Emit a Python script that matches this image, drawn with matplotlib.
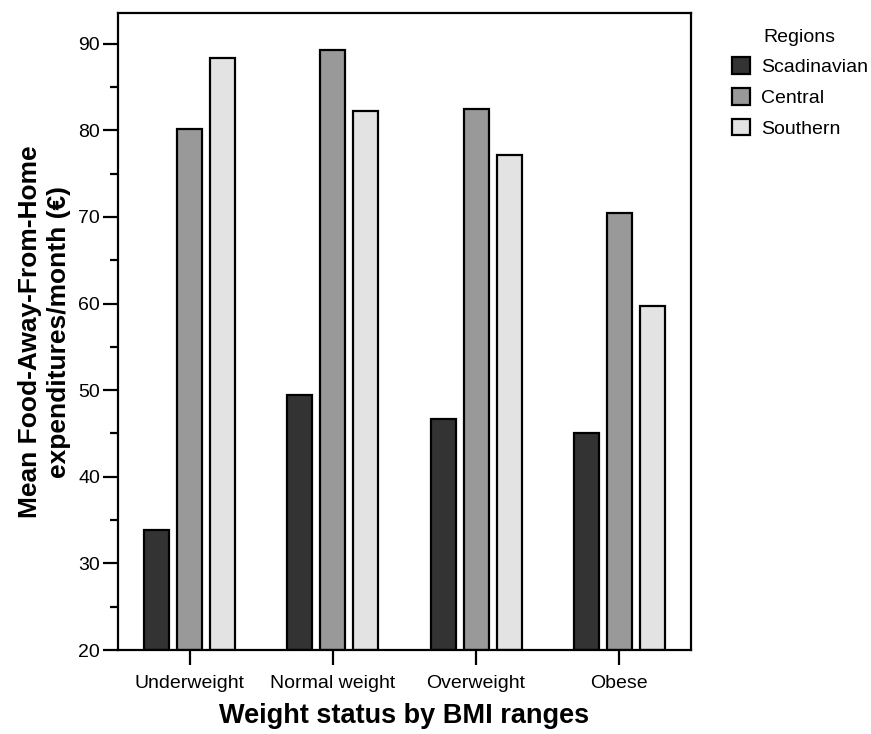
import numpy as np
import matplotlib.pyplot as plt
from matplotlib.ticker import MultipleLocator

plt.rcParams['font.family'] = ['Liberation Sans', 'DejaVu Sans']

categories = ['Underweight', 'Normal weight', 'Overweight', 'Obese']
regions = ['Scadinavian', 'Central', 'Southern']
scandinavian = [33.9, 49.4, 46.7, 45.0]
central = [80.2, 89.3, 82.5, 70.5]
southern = [88.3, 82.2, 77.1, 59.7]
colors = ['#333333', '#999999', '#e3e3e3']

fig = plt.figure(figsize=(8.71, 7.34), dpi=100)
ax = fig.add_axes([0.1355, 0.1144, 0.6578, 0.8675])

x = np.arange(len(categories))
width = 0.175
step = 0.23
for i, (vals, name) in enumerate(zip([scandinavian, central, southern], regions)):
    ax.bar(x + (i - 1) * step, np.array(vals) - 20, width, bottom=20,
           color=colors[i], edgecolor='black', linewidth=1.6, label=name)

ax.set_xlim(-0.5, 3.5)
ax.set_ylim(20, 93.5)
ax.set_xticks(x)
ax.set_xticklabels(categories, fontsize=14)
ax.yaxis.set_major_locator(MultipleLocator(10))
ax.yaxis.set_minor_locator(MultipleLocator(5))
ax.set_yticks(np.arange(20, 91, 10))
ax.tick_params(axis='y', labelsize=14, length=11, width=1.6, direction='out', pad=2)
ax.tick_params(axis='y', which='minor', length=5.5, width=1.6)
ax.tick_params(axis='x', length=11, width=1.6, direction='out', pad=7)
for sp in ax.spines.values():
    sp.set_linewidth(1.6)

ax.set_xlabel('Weight status by BMI ranges', fontsize=19.5, fontweight='bold', labelpad=8)
ax.set_ylabel('Mean Food-Away-From-Home\nexpenditures/month (€)', fontsize=19,
              fontweight='bold', labelpad=5, linespacing=1.25)

leg = ax.legend(title='Regions', loc='upper left', bbox_to_anchor=(0.82, 0.985),
                bbox_transform=fig.transFigure, frameon=False, fontsize=14,
                title_fontsize=14, handlelength=0.95, handleheight=0.95,
                handletextpad=0.55, labelspacing=0.6)

fig.savefig('out.png', dpi=100)
